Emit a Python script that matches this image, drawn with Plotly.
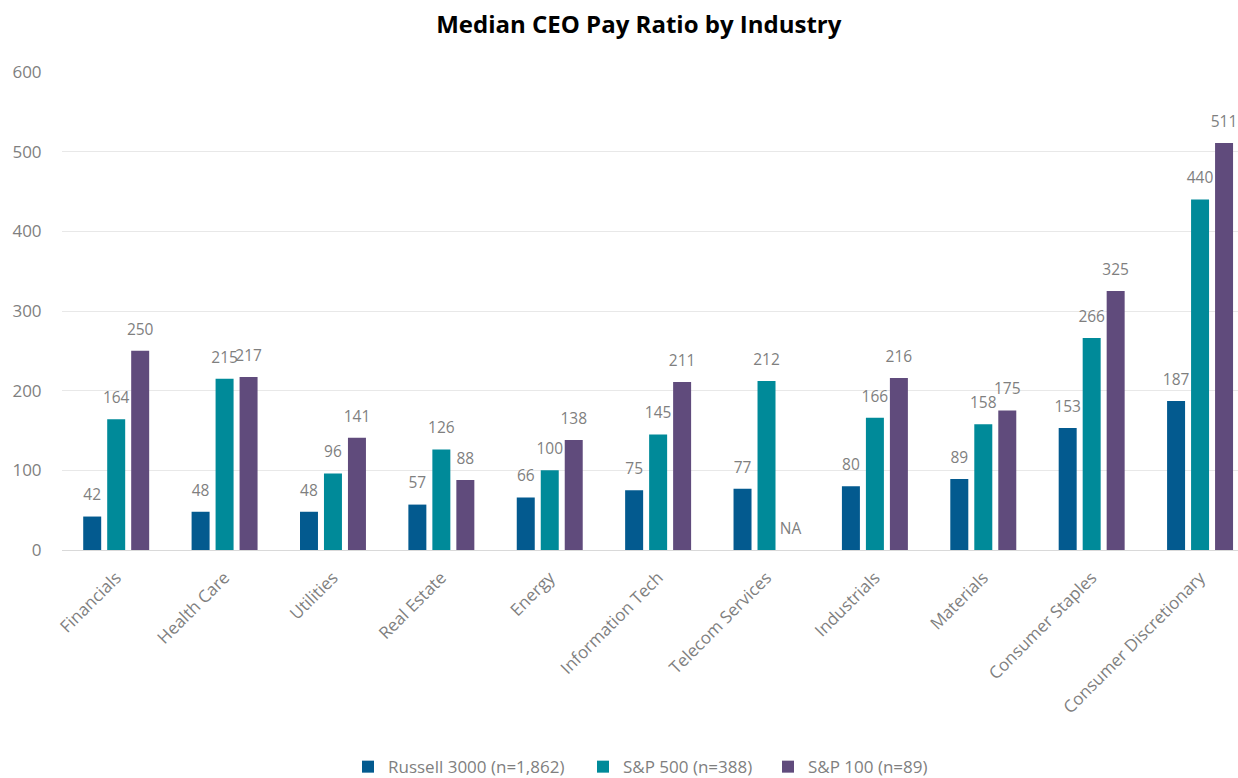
import plotly.graph_objects as go

categories = ["Financials", "Health Care", "Utilities", "Real Estate", "Energy",
              "Information Tech", "Telecom Services", "Industrials", "Materials",
              "Consumer Staples", "Consumer Discretionary"]
russell_3000 = [42, 48, 48, 57, 66, 75, 77, 80, 89, 153, 187]
sp_500 = [164, 215, 96, 126, 100, 145, 212, 166, 158, 266, 440]
sp_100 = [250, 217, 141, 88, 138, 211, None, 216, 175, 325, 511]
series_names = ["Russell 3000 (n=1,862)", "S&P 500 (n=388)", "S&P 100 (n=89)"]
series_colors = ["#035a8f", "#008a99", "#604b7c"]
y_ticks = [0, 100, 200, 300, 400, 500, 600]

FONT = "Open Sans, sans-serif"
GRAY = "#7f7f7f"
GAP = 0.336
legend_ids = ["legend", "legend2", "legend3"]
legend_x = [348, 583, 768]  # left px of each legend box

fig = go.Figure()
all_series = [russell_3000, sp_500, sp_100]
for name, vals, col, lg in zip(series_names, all_series, series_colors, legend_ids):
    fig.add_trace(go.Bar(
        x=categories, y=vals, name=name, marker_color=col,
        marker_line_width=0, hoverinfo="skip", offsetgroup=name, legend=lg,
    ))
for name, vals in zip(series_names, all_series):
    fig.add_trace(go.Scatter(
        x=categories, y=[v if v is not None else 0 for v in vals],
        text=[str(v) if v is not None else "NA" for v in vals],
        mode="markers+text", textposition="top center",
        marker=dict(size=18, opacity=0), textfont=dict(size=15.5, color=GRAY, family=FONT),
        showlegend=False, hoverinfo="skip", offsetgroup=name,
    ))

legend_style = dict(orientation="h", xref="container", xanchor="left",
                    y=0.014, yref="container", yanchor="middle",
                    font=dict(size=17, color=GRAY, family=FONT), itemwidth=30,
                    bgcolor="rgba(0,0,0,0)", borderwidth=0)
legends = {lg: dict(legend_style, x=lx / 1238) for lg, lx in zip(legend_ids, legend_x)}

fig.update_layout(
    width=1238, height=778,
    margin=dict(l=62, r=0, t=72, b=228),
    paper_bgcolor="white", plot_bgcolor="white",
    barmode="group", bargap=GAP, bargroupgap=0.25,
    scattermode="group", scattergap=GAP,
    font=dict(family=FONT, color=GRAY, size=15),
    title=dict(text="<b>Median CEO Pay Ratio by Industry</b>", x=0.516, xref="container",
               xanchor="center", y=0.968, yref="container", yanchor="middle",
               font=dict(size=24, color="#000000", family=FONT)),
    showlegend=True,
    **legends,
)
fig.update_xaxes(type="category", range=[-0.5, 10.35], tickangle=-45,
                 tickfont=dict(size=17, color=GRAY, family=FONT),
                 showline=True, linecolor="#d9d9d9", linewidth=1,
                 ticks="outside", ticklen=10, tickcolor="rgba(0,0,0,0)",
                 showgrid=False)
fig.update_yaxes(range=[0, 600], tickvals=y_ticks, showgrid=True, gridcolor="#e8e8e8",
                 gridwidth=1, zeroline=False, showline=False,
                 ticks="outside", ticklen=16, tickcolor="rgba(0,0,0,0)",
                 tickfont=dict(size=17, color=GRAY, family=FONT))

fig.write_html("out.html")
